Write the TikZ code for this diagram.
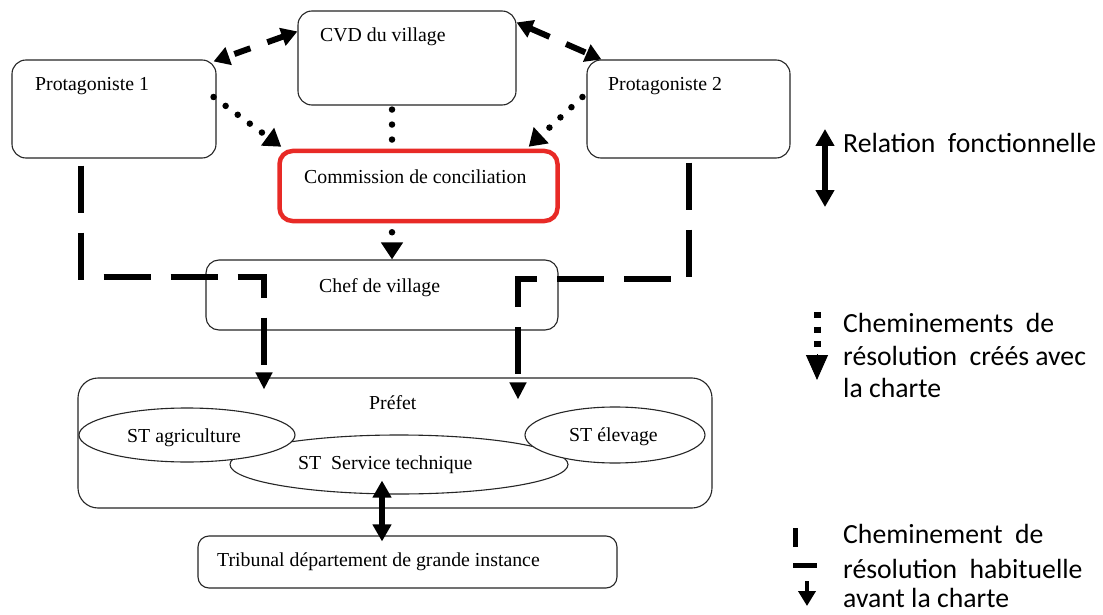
\documentclass[tikz,border=0pt]{standalone}
\usepackage{fontspec}
\setmainfont{Liberation Serif}
\newfontfamily\legfont{Carlito}
\usetikzlibrary{arrows.meta,calc,shapes.geometric}
\definecolor{boxred}{RGB}{232,42,38}
\tikzset{
  box/.style={draw=black!85, line width=1.1pt, rounded corners=14pt, inner sep=0pt},
  ell/.style={draw=black!85, line width=1.1pt, ellipse, inner sep=0pt, fill=white},
  btxt/.style={inner sep=0pt, anchor=base west, font=\fontsize{19.8}{22}\selectfont},
  ltxt/.style={inner sep=0pt, anchor=base west, font=\legfont\fontsize{27.7}{32}\selectfont},
  dtip/.style={-{Triangle[length=17pt,width=21pt]}},
  reldash/.style={line width=6pt, {Triangle[length=16pt,width=18pt]}-{Triangle[length=16pt,width=18pt]}},
  rel/.style={line width=6pt, {Triangle[length=17pt,width=18pt]}-{Triangle[length=17pt,width=18pt]}},
  dots/.style={line width=6.5pt, line cap=round, dash pattern=on 0pt off 15pt},
  habit/.style={line width=6pt, dash pattern=on 47pt off 20pt, -{Triangle[length=17pt,width=16pt]}}
}
\begin{document}
\begin{tikzpicture}[x=1pt,y=-1pt]
\useasboundingbox[fill=white] (0,0) rectangle (1103,615);

% boxes
\node[box, minimum width=218pt, minimum height=94pt] (cvd) at (407,58) {};
\node[btxt] (cvdt) at (320,42) {CVD du village};
\node[box, minimum width=204pt, minimum height=98pt] (p1) at (114,109) {};
\node[btxt] (p1t) at (35,91) {Protagoniste 1};
\node[box, minimum width=203pt, minimum height=98pt] (p2) at (688.5,109) {};
\node[btxt] (p2t) at (608,91) {Protagoniste 2};
\node[draw=boxred, line width=4.5pt, rounded corners=13pt, inner sep=0pt, minimum width=278pt, minimum height=70pt] (com) at (418.5,186) {};
\node[btxt] (comt) at (304,183) {Commission de conciliation};
\node[box, rounded corners=13pt, minimum width=352pt, minimum height=70pt] (chef) at (382,295) {};
\node[btxt] (cheft) at (319,292) {Chef de village};
\node[box, rounded corners=20pt, minimum width=634pt, minimum height=130pt] (pref) at (395,443) {};
\node[btxt] (preft) at (369,409) {Préfet};
\node[ell, minimum width=338pt, minimum height=59pt] (serv) at (399,464.5) {};
\node[ell, minimum width=216pt, minimum height=54pt] (agri) at (187,435) {};
\node[ell, minimum width=180pt, minimum height=56pt] (elev) at (615,435) {};
\node[btxt] (agrit) at (127,442) {ST agriculture};
\node[btxt] (elevt) at (569,441) {ST élevage};
\node[btxt] (servt) at (298,469) {ST\ \ Service technique};
\node[box, rounded corners=11pt, minimum width=419pt, minimum height=52pt] (trib) at (407.5,562) {};
\node[btxt] (tribt) at (217,566) {Tribunal département de grande instance};

% functional relations
\draw[reldash, dash pattern=on 17pt off 18pt] ($(cvd.north west)+(0,21)$) -- ($(p1.north east)+(-3,2)$);
\draw[reldash, dash pattern=on 21pt off 18pt] ($(cvd.north east)+(0,12)$) -- ($(p2.north west)+(15,0)$);
\coordinate (ax) at (382,0);
\draw[rel] ($(serv.south -| ax)+(0,-14)$) -- ($(trib.north -| ax)+(0,6)$);

% new paths (dotted)
\coordinate (vx) at (392,0);
\draw[dots, dtip] ($(p1.east)+(-3,-12)$) -- ($(com.north west)+(4,-2)$);
\draw[dots, dtip] ($(p2.west)+(-4,-12)$) -- ($(com.north east)+(-31,-2)$);
\draw[dots] ($(cvd.south -| vx)+(0,4)$) -- ($(com.north -| vx)+(0,-9)$);
\draw[dots, dtip] ($(com.south -| vx)+(0,9)$) -- (chef.north -| vx);

% habitual paths (dashed)
\coordinate (lc) at (264,277);
\coordinate (rc) at (518,279);
\draw[habit] ($(p1.south)+(-33,7)$) |- (lc) -- ($(pref.north -| lc)+(0,12)$);
\draw[habit] ($(p2.south)+(0,4)$) |- (rc) -- ($(pref.north -| rc)+(0,22)$);

% legend
\node[ltxt] (l1) at (843,153) {Relation\ \ fonctionnelle};
\coordinate (la1) at (825,129);
\coordinate (la2) at (825,207);
\draw[rel] (la1) -- (la2);

\node[ltxt] (l2a) at (843,332) {Cheminements\ \ de};
\node[ltxt] (l2b) at (843,365) {résolution\ \ créés avec};
\node[ltxt] (l2c) at (843,397) {la charte};
\coordinate (lb1) at (817,312);
\coordinate (lb2) at (817,348);
\coordinate (lb3) at (817,354);
\coordinate (lb4) at (817,380);
\draw[line width=7pt, dash pattern=on 6pt off 8.5pt] (lb1) -- (lb2);
\draw[line width=1pt, -{Triangle[length=25pt,width=22pt]}] (lb3) -- (lb4);

\node[ltxt] (l3a) at (843,543) {Cheminement\ \ de};
\node[ltxt] (l3b) at (843,578) {résolution\ \ habituelle};
\node[ltxt] (l3c) at (843,607) {avant la charte};
\coordinate (lc1) at (795.5,528);
\coordinate (lc2) at (795.5,547);
\coordinate (lc3) at (793,565.5);
\coordinate (lc4) at (817,565.5);
\coordinate (lc5) at (807,581);
\coordinate (lc6) at (807,606);
\draw[line width=5.5pt] (lc1) -- (lc2);
\draw[line width=5pt] (lc3) -- (lc4);
\draw[line width=4pt, -{Triangle[length=15pt,width=17pt]}] (lc5) -- (lc6);
\end{tikzpicture}
\end{document}
